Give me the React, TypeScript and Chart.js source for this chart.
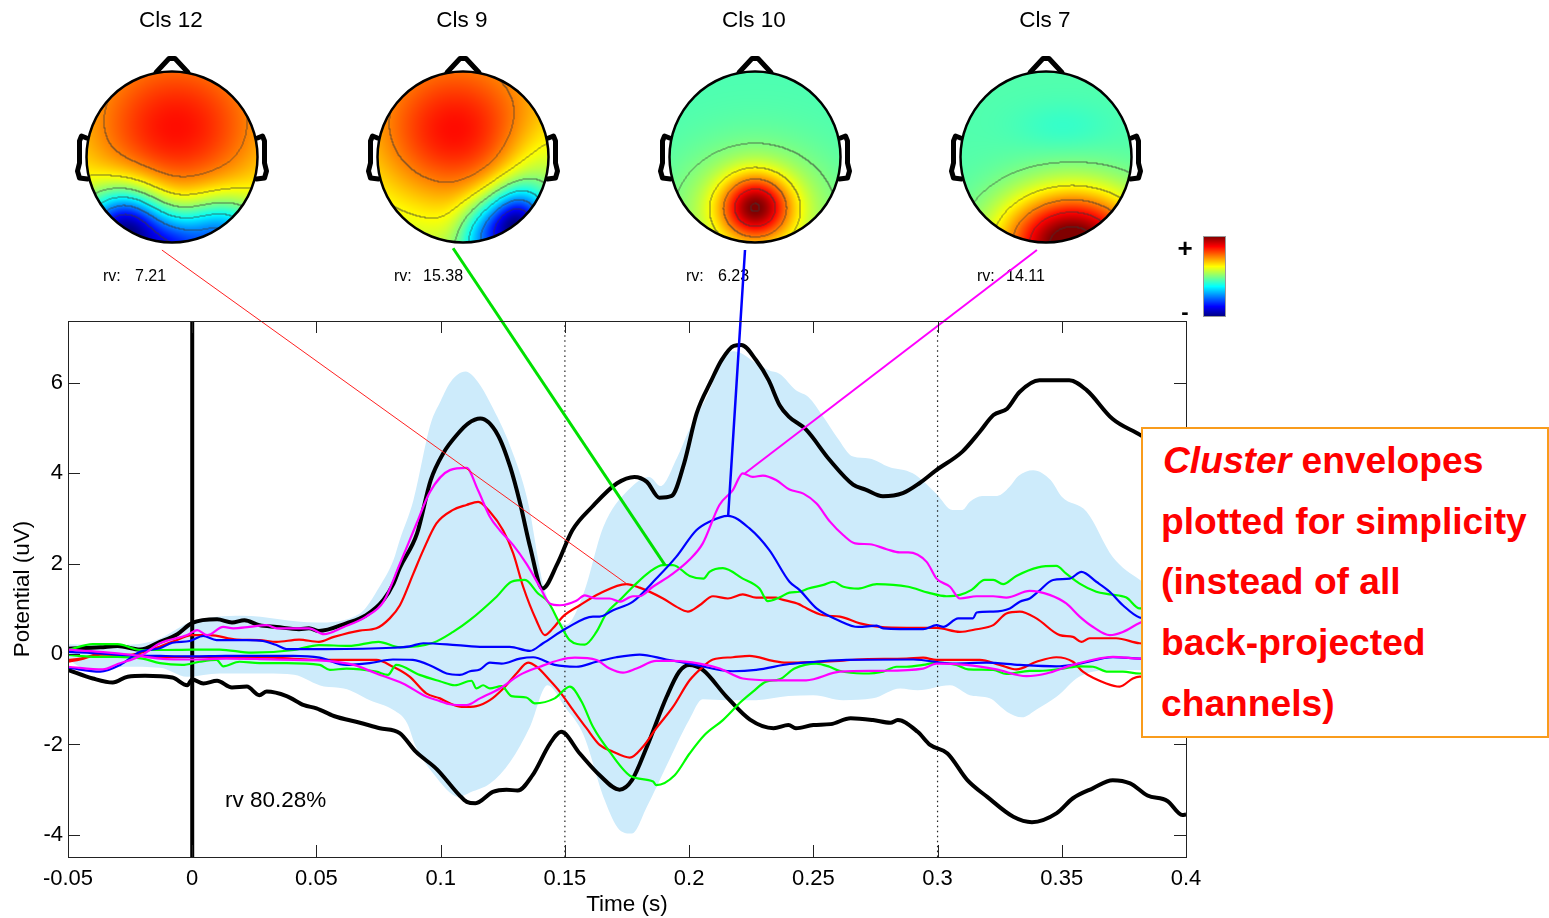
import React, { useEffect, useRef } from "react";
import { Chart, registerables } from "chart.js";

Chart.register(...registerables);

// ---------- axis ticks ----------
const xTicks = [-0.05, 0, 0.05, 0.1, 0.15, 0.2, 0.25, 0.3, 0.35, 0.4];
const yTicks = [-4, -2, 0, 2, 4, 6];
const xLabels = ["-0.05", "0", "0.05", "0.1", "0.15", "0.2", "0.25", "0.3", "0.35", "0.4"];
const dottedTimes = [0.15, 0.3];

// ---------- outer black envelope ----------
const blackUpT = [-0.05,-0.037,-0.03,-0.021,-0.013,-0.006,0,0.01,0.016,0.021,0.027,0.034,0.043,0.047,0.051,0.062,0.07,0.077,0.081,0.0835,0.0905,0.096,0.101,0.107,0.111,0.116,0.123,0.128,0.132,0.136,0.141,0.147,0.153,0.161,0.171,0.178,0.183,0.188,0.193,0.198,0.203,0.209,0.213,0.218,0.221,0.227,0.232,0.2365,0.24,0.247,0.2565,0.266,0.271,0.278,0.286,0.2927,0.2995,0.31,0.317,0.3225,0.328,0.333,0.341,0.353,0.36,0.3705,0.3815,0.4];
const blackUpV = [0.12,0.15,0.18,0.1,0.27,0.44,0.69,0.77,0.7,0.75,0.64,0.6,0.55,0.57,0.51,0.68,0.86,1.2,1.56,1.9,2.67,3.85,4.44,4.88,5.1,5.21,4.85,4.14,3.33,2.37,1.45,2.0,2.74,3.26,3.78,3.92,3.81,3.46,3.5,4.22,5.32,6.06,6.5,6.82,6.84,6.5,6.06,5.5,5.26,4.97,4.3,3.75,3.64,3.49,3.56,3.78,4.07,4.48,4.92,5.29,5.43,5.8,6.06,6.06,5.84,5.2,4.85,4.2];
const blackLowT = [-0.05,-0.04,-0.032,-0.026,-0.019,-0.008,-0.002,0,0.0045,0.01,0.016,0.022,0.027,0.03,0.038,0.045,0.05,0.057,0.0675,0.0755,0.0835,0.09,0.0985,0.1075,0.1105,0.114,0.121,0.1265,0.131,0.137,0.144,0.1485,0.156,0.164,0.172,0.177,0.183,0.191,0.196,0.2,0.2055,0.215,0.2245,0.234,0.24,0.243,0.25,0.257,0.265,0.274,0.281,0.284,0.292,0.297,0.304,0.312,0.32,0.3305,0.338,0.348,0.3545,0.3625,0.3705,0.3775,0.3845,0.3925,0.3985,0.4];
const blackLowV = [-0.35,-0.54,-0.63,-0.5,-0.48,-0.52,-0.69,-0.56,-0.65,-0.59,-0.74,-0.72,-0.91,-0.83,-0.93,-1.13,-1.2,-1.37,-1.52,-1.64,-1.75,-2.16,-2.55,-3.12,-3.27,-3.3,-3.05,-3.0,-3.02,-2.68,-1.98,-1.72,-2.2,-2.68,-3.0,-2.79,-2.05,-0.94,-0.39,-0.24,-0.35,-0.94,-1.45,-1.64,-1.57,-1.64,-1.57,-1.55,-1.42,-1.46,-1.52,-1.46,-1.72,-2.01,-2.2,-2.79,-3.16,-3.6,-3.72,-3.52,-3.19,-2.97,-2.79,-2.86,-3.13,-3.25,-3.56,-3.55];

// ---------- light-blue envelope ----------
const fillUpT = [-0.05,-0.03,-0.015,0,0.02,0.05,0.0675,0.0755,0.081,0.0835,0.089,0.096,0.1,0.104,0.11,0.115,0.12,0.128,0.135,0.1415,0.1505,0.1575,0.1655,0.1755,0.184,0.1885,0.195,0.2,0.208,0.213,0.218,0.228,0.232,0.2365,0.243,0.248,0.254,0.2595,0.266,0.2725,0.2805,0.29,0.2995,0.306,0.31,0.313,0.318,0.324,0.329,0.3325,0.3385,0.3455,0.35,0.36,0.3705,0.3815,0.4];
const fillUpV = [0.22,0.2,0.3,0.72,0.85,0.7,0.9,1.5,2.08,2.52,3.4,5.1,5.6,6.02,6.25,6.02,5.55,4.6,3.4,1.5,0.65,1.34,2.82,3.63,3.92,3.72,4.33,4.96,5.8,6.5,6.7,6.4,6.28,6.2,5.84,5.69,5.25,4.8,4.37,4.33,4.14,4.0,3.55,3.19,3.19,3.37,3.5,3.5,3.7,3.94,4.07,3.85,3.48,3.15,2.15,1.64,1.0];
const fillLowT = [-0.05,-0.04,-0.027,-0.013,-0.002,0.011,0.03,0.041,0.053,0.061,0.0715,0.081,0.0865,0.09,0.097,0.1075,0.112,0.12,0.128,0.136,0.143,0.15,0.1575,0.166,0.172,0.177,0.183,0.191,0.2,0.2055,0.215,0.227,0.24,0.25,0.262,0.274,0.285,0.292,0.305,0.313,0.321,0.328,0.334,0.34,0.348,0.357,0.37,0.38,0.4];
const fillLowV = [-0.13,-0.39,-0.28,-0.3,-0.5,-0.43,-0.43,-0.46,-0.72,-0.76,-1.02,-1.24,-1.53,-2.05,-2.64,-3.16,-3.06,-2.86,-2.38,-1.6,-0.69,-1.17,-1.79,-3.23,-3.89,-3.97,-3.38,-2.46,-1.46,-1.0,-1.02,-1.02,-0.93,-0.91,-1.02,-0.98,-0.76,-0.8,-0.69,-0.91,-0.98,-1.28,-1.4,-1.22,-0.94,-0.5,-0.35,-0.35,-0.4];

// ---------- cluster envelopes: magenta ----------
const magUpT = [-0.05,-0.036,-0.03,-0.021,-0.013,-0.002,0.002,0.006,0.0125,0.0165,0.023,0.03,0.034,0.041,0.047,0.053,0.061,0.07,0.077,0.0836,0.0903,0.0957,0.1037,0.1104,0.115,0.1198,0.1238,0.1292,0.1345,0.1399,0.1439,0.148,0.1546,0.158,0.1627,0.168,0.172,0.1774,0.18,0.1854,0.1935,0.2,0.2055,0.2122,0.2176,0.2216,0.2256,0.2297,0.235,0.2404,0.246,0.2513,0.2567,0.2621,0.2668,0.2728,0.2795,0.2848,0.2882,0.2956,0.2996,0.305,0.309,0.3157,0.3224,0.3277,0.3371,0.3451,0.3518,0.3572,0.3626,0.3693,0.3746,0.3813,0.4];
const magUpV = [-0.28,-0.34,-0.22,-0.05,0.24,0.42,0.53,0.42,0.6,0.57,0.6,0.64,0.57,0.57,0.57,0.44,0.6,0.83,1.16,2.0,2.89,3.59,4.07,4.12,3.63,3.04,2.74,2.41,2.0,1.49,1.12,1.08,1.18,1.3,1.23,1.23,1.16,1.28,1.28,1.49,1.78,2.08,2.45,3.3,3.63,4.0,3.92,3.95,3.85,3.64,3.55,3.33,2.93,2.63,2.45,2.43,2.32,2.25,2.25,2.04,1.67,1.49,1.23,1.28,1.28,1.25,1.4,1.31,1.12,0.83,0.6,0.42,0.49,0.69,1.1];
const magLowT = [-0.05,-0.037,-0.024,-0.013,0,0.0138,0.027,0.041,0.054,0.065,0.0741,0.0848,0.0942,0.0997,0.1037,0.1104,0.1158,0.1238,0.1319,0.1399,0.1479,0.154,0.1627,0.168,0.1734,0.1788,0.1868,0.1935,0.2042,0.2123,0.2216,0.2337,0.2471,0.2607,0.2768,0.2942,0.2996,0.3116,0.3237,0.3358,0.3438,0.3545,0.3706,0.3813,0.4];
const magLowV = [0.1,0.05,-0.02,-0.1,-0.12,-0.1,-0.11,-0.13,-0.15,-0.24,-0.43,-0.65,-0.94,-1.04,-1.11,-1.13,-0.98,-0.76,-0.46,-0.28,-0.13,-0.08,-0.13,-0.32,-0.41,-0.32,-0.15,-0.15,-0.21,-0.32,-0.54,-0.58,-0.58,-0.39,-0.37,-0.32,-0.21,-0.24,-0.34,-0.49,-0.43,-0.24,-0.06,-0.1,-0.08];

// ---------- cluster envelopes: blue ----------
const blueUpT = [-0.05,-0.037,-0.029,-0.021,-0.013,-0.008,-0.001,0.0044,0.0098,0.0218,0.0285,0.0339,0.0379,0.054,0.0808,0.0875,0.093,0.1064,0.1171,0.1278,0.1359,0.1412,0.1506,0.1613,0.164,0.1694,0.1774,0.1868,0.1948,0.2029,0.2082,0.2156,0.2243,0.2323,0.2404,0.2444,0.2513,0.26,0.2681,0.2755,0.2781,0.2942,0.2996,0.3023,0.3083,0.3143,0.3157,0.3224,0.3291,0.3331,0.3371,0.3405,0.3465,0.3532,0.3579,0.3639,0.3693,0.3746,0.3813,0.4];
const blueUpV = [-0.3,-0.39,-0.24,0.05,0.13,0.25,0.29,0.4,0.31,0.31,0.29,0.2,0.11,0.11,0.14,0.17,0.24,0.2,0.16,0.16,0.07,0.24,0.57,0.83,0.83,0.97,1.16,1.67,2.15,2.74,2.93,3.06,2.78,2.3,1.6,1.42,1.01,0.75,0.6,0.63,0.57,0.55,0.64,0.6,0.79,0.79,0.92,0.94,1.01,1.16,1.23,1.38,1.64,1.67,1.82,1.6,1.38,1.08,0.81,0.7];
const blueLowT = [-0.05,-0.036,-0.029,-0.013,0,0.0138,0.0272,0.0406,0.0513,0.062,0.0714,0.0808,0.0888,0.0969,0.1024,0.1077,0.1118,0.1158,0.1198,0.1245,0.1319,0.1372,0.1459,0.1546,0.1627,0.1707,0.1801,0.1908,0.2002,0.2176,0.227,0.2404,0.2511,0.2634,0.2902,0.3063,0.3197,0.3331,0.3478,0.3572,0.3706,0.3813,0.4];
const blueLowV = [0.05,0.01,-0.02,-0.04,-0.05,-0.04,-0.04,-0.04,-0.08,-0.24,-0.2,-0.12,-0.13,-0.28,-0.43,-0.46,-0.38,-0.34,-0.19,-0.21,-0.1,-0.07,-0.24,-0.28,-0.17,-0.07,-0.01,-0.12,-0.21,-0.38,-0.35,-0.22,-0.17,-0.13,-0.12,-0.21,-0.19,-0.24,-0.27,-0.21,-0.07,-0.1,-0.12];

// ---------- cluster envelopes: green ----------
const greenUpT = [-0.05,-0.04,-0.03,-0.021,-0.013,0,0.011,0.024,0.041,0.051,0.063,0.075,0.0836,0.097,0.105,0.1117,0.1225,0.1285,0.1339,0.1392,0.1432,0.1479,0.1519,0.158,0.1627,0.1667,0.172,0.1774,0.1841,0.1895,0.1935,0.2002,0.2058,0.2082,0.2136,0.2216,0.2283,0.2317,0.2363,0.2404,0.2444,0.248,0.2541,0.258,0.2621,0.2681,0.2755,0.2882,0.2962,0.3036,0.309,0.3137,0.319,0.3224,0.3264,0.3317,0.3405,0.3478,0.3518,0.3572,0.3639,0.3693,0.376,0.3813,0.4];
const greenUpV = [0.09,0.22,0.22,0.09,0.09,0.1,0.1,0.03,0.09,0.2,0.18,0.27,0.15,0.25,0.49,0.75,1.27,1.6,1.64,1.34,1.16,0.68,0.31,0.21,0.49,0.9,1.19,1.49,1.82,1.97,1.97,1.73,1.67,1.82,1.9,1.67,1.45,1.17,1.25,1.36,1.38,1.45,1.53,1.6,1.49,1.45,1.55,1.49,1.36,1.28,1.31,1.42,1.64,1.64,1.55,1.73,1.92,1.95,1.78,1.56,1.38,1.32,1.25,1.01,1.01];
const greenLowT = [-0.05,-0.04,-0.03,-0.02,-0.013,-0.004,0.003,0.0098,0.0125,0.019,0.027,0.038,0.0513,0.0554,0.0621,0.0741,0.0788,0.0821,0.0915,0.0997,0.1057,0.1124,0.1144,0.1171,0.1198,0.1245,0.1285,0.1345,0.1379,0.1459,0.152,0.1567,0.1613,0.168,0.1768,0.1855,0.1868,0.1942,0.2002,0.2062,0.2136,0.221,0.2257,0.231,0.2364,0.2424,0.2511,0.2565,0.2605,0.2701,0.2781,0.2835,0.2875,0.2942,0.2996,0.3076,0.3123,0.3224,0.3277,0.3371,0.3411,0.3505,0.3572,0.3626,0.3686,0.3746,0.3813,0.4];
const greenLowV = [-0.02,-0.06,-0.06,-0.1,-0.2,-0.24,-0.17,-0.13,-0.27,-0.17,-0.2,-0.2,-0.24,-0.35,-0.32,-0.39,-0.46,-0.24,-0.46,-0.6,-0.69,-0.59,-0.76,-0.69,-0.76,-0.71,-0.93,-0.96,-1.09,-0.98,-0.72,-1.05,-1.61,-2.16,-2.71,-2.82,-2.9,-2.68,-2.2,-1.79,-1.46,-1.05,-0.83,-0.61,-0.56,-0.32,-0.21,-0.28,-0.37,-0.43,-0.39,-0.28,-0.28,-0.24,-0.19,-0.24,-0.34,-0.35,-0.44,-0.37,-0.37,-0.32,-0.27,-0.28,-0.39,-0.39,-0.43,-0.4];

// ---------- cluster envelopes: red ----------
const redUpT = [-0.05,-0.045,-0.036,-0.026,-0.017,-0.008,0,0.007,0.018,0.027,0.034,0.043,0.051,0.057,0.0674,0.0741,0.0795,0.0836,0.089,0.093,0.0983,0.105,0.1104,0.1151,0.1198,0.1251,0.1292,0.1332,0.1385,0.1419,0.1452,0.1492,0.156,0.164,0.1747,0.1801,0.1895,0.1948,0.1995,0.2042,0.2096,0.2156,0.2216,0.227,0.235,0.2366,0.2444,0.246,0.254,0.2607,0.2688,0.2768,0.2875,0.2942,0.2996,0.309,0.3157,0.3224,0.3277,0.3331,0.3398,0.3492,0.3545,0.3579,0.3612,0.3719,0.3813,0.4];
const redUpV = [-0.13,-0.1,0.01,-0.02,0.09,0.27,0.42,0.42,0.32,0.31,0.27,0.32,0.27,0.38,0.52,0.57,0.79,1.08,1.78,2.3,2.89,3.19,3.3,3.37,3.15,2.74,2.23,1.49,0.75,0.42,0.57,0.83,1.08,1.34,1.55,1.47,1.23,1.05,0.94,1.08,1.28,1.23,1.32,1.25,1.25,1.22,1.1,1.05,0.86,0.83,0.68,0.6,0.58,0.58,0.58,0.49,0.55,0.64,0.9,0.94,0.79,0.42,0.38,0.27,0.35,0.35,0.24,0.2];
const redLowT = [-0.05,-0.045,-0.037,-0.024,-0.013,0,0.0138,0.0326,0.054,0.0741,0.0808,0.0875,0.0942,0.0997,0.1037,0.1084,0.1144,0.1198,0.1252,0.1305,0.1352,0.1386,0.1439,0.1479,0.1533,0.1587,0.164,0.1694,0.1761,0.1814,0.1868,0.1935,0.2002,0.2056,0.2096,0.2176,0.2243,0.2337,0.239,0.2605,0.2674,0.2875,0.2942,0.2996,0.317,0.325,0.3317,0.3398,0.3478,0.3545,0.3585,0.3679,0.3733,0.3786,0.3813,0.4];
const redLowV = [-0.17,-0.12,-0.01,-0.02,-0.06,-0.06,-0.06,-0.08,-0.13,-0.13,-0.28,-0.5,-0.87,-0.98,-1.09,-1.17,-1.15,-1.02,-0.76,-0.43,-0.19,-0.28,-0.58,-0.83,-1.24,-1.64,-2.01,-2.16,-2.29,-2.05,-1.64,-1.17,-0.58,-0.28,-0.12,-0.07,-0.04,-0.15,-0.19,-0.15,-0.12,-0.1,-0.08,-0.13,-0.13,-0.24,-0.34,-0.17,-0.07,-0.17,-0.39,-0.65,-0.72,-0.54,-0.5,-0.5];

// ---------- connectors from scalp maps to envelope peaks ----------
const redLinkT = [-0.0122, 0.175];
const redLinkV = [8.94, 1.55];
const greenLinkT = [0.105, 0.1903];
const greenLinkV = [8.98, 1.97];
const blueLinkT = [0.2225, 0.2157];
const blueLinkV = [8.94, 3.04];
const magLinkT = [0.34, 0.2225];
const magLinkV = [8.94, 4.0];

// ---------- scalp map labels ----------
const mapTitles = ["Cls 12", "Cls 9", "Cls 10", "Cls 7"];
const mapRv = ["7.21", "15.38", "6.23", "14.11"];
// Each blob: [x, y, amplitude, sigmaX, sigmaY] in head-radius units.
const mapBase = [0.58, 0.58, 0.45, 0.455];
const mapSlope = [-0.04, -0.05, 0.0, 0.0];
const mapBlobs12 = [[0.04,-0.28,0.27,0.8,0.7],[-0.55,0.85,-0.58,0.33,0.33],[0,1.15,-0.28,0.25,0.3],[0.55,0.9,-0.35,0.33,0.3]];
const mapBlobs9 = [[-0.1,-0.25,0.27,0.72,0.65],[0.62,0.8,-0.55,0.25,0.3],[0.2,0.95,-0.2,0.2,0.3],[0.85,0.2,-0.08,0.3,0.4]];
const mapBlobs10 = [[0,0.58,0.4,0.28,0.26],[0,0.68,0.16,0.62,0.52]];
const mapBlobs7 = [[0.3,1.0,0.6,0.58,0.42],[0.2,-0.35,-0.03,0.4,0.2]];
const mapBlobs = [mapBlobs12, mapBlobs9, mapBlobs10, mapBlobs7];

const FONT = '"Liberation Sans", Arial, sans-serif';
const HEAD_X = [172, 463, 755, 1046];
const HEAD_Y = 157;
const HEAD_R = 85.5;

const zip = (t: number[], v: number[]) => t.map((x, i) => ({ x, y: v[i] }));

function jet(v: number): [number, number, number] {
  const c = (a: number) => Math.round(255 * Math.max(0, Math.min(1, a)));
  return [c(1.5 - Math.abs(4 * v - 3)), c(1.5 - Math.abs(4 * v - 2)), c(1.5 - Math.abs(4 * v - 1))];
}

function makeMap(i: number): HTMLCanvasElement {
  const size = Math.ceil(HEAD_R * 2) + 2;
  const cv = document.createElement("canvas");
  cv.width = size;
  cv.height = size;
  const ctx = cv.getContext("2d")!;
  const img = ctx.createImageData(size, size);
  const field = (px: number, py: number) => {
    const nx = (px - size / 2) / HEAD_R;
    const ny = (py - size / 2) / HEAD_R;
    let f = mapBase[i] + mapSlope[i] * ny;
    for (const [bx, by, a, sx, sy] of mapBlobs[i]) {
      f += a * Math.exp(-((nx - bx) ** 2) / (2 * sx * sx) - ((ny - by) ** 2) / (2 * sy * sy));
    }
    return Math.max(0, Math.min(1, f));
  };
  const step = 0.125;
  for (let y = 0; y < size; y++) {
    for (let x = 0; x < size; x++) {
      const f = field(x, y);
      let [r, g, b] = jet(f);
      const q = Math.floor(f / step);
      if (q !== Math.floor(field(x + 1, y) / step) || q !== Math.floor(field(x, y + 1) / step)) {
        r = Math.round(r * 0.3 + 40);
        g = Math.round(g * 0.3 + 40);
        b = Math.round(b * 0.3 + 40);
      }
      const o = (y * size + x) * 4;
      img.data[o] = r;
      img.data[o + 1] = g;
      img.data[o + 2] = b;
      img.data[o + 3] = 255;
    }
  }
  ctx.putImageData(img, 0, 0);
  return cv;
}

function drawHead(ctx: CanvasRenderingContext2D, i: number, map: HTMLCanvasElement) {
  const cx = HEAD_X[i];
  const cy = HEAD_Y;
  const r = HEAD_R;
  ctx.save();
  ctx.lineJoin = "round";
  ctx.lineCap = "round";
  ctx.strokeStyle = "#000";
  // nose
  ctx.lineWidth = 5;
  ctx.beginPath();
  ctx.moveTo(cx - 16, cy - r + 1);
  ctx.lineTo(cx - 3, cy - r - 13);
  ctx.lineTo(cx + 3, cy - r - 13);
  ctx.lineTo(cx + 16, cy - r + 1);
  ctx.stroke();
  // ears
  for (const s of [-1, 1]) {
    ctx.beginPath();
    ctx.moveTo(cx + s * (r + 0), cy - 19);
    ctx.lineTo(cx + s * (r + 5), cy - 21);
    ctx.lineTo(cx + s * (r + 7), cy - 16);
    ctx.lineTo(cx + s * (r + 7), cy + 6);
    ctx.lineTo(cx + s * (r + 9), cy + 14);
    ctx.lineTo(cx + s * (r + 7), cy + 21);
    ctx.lineTo(cx + s * (r - 1), cy + 22);
    ctx.stroke();
  }
  // map
  ctx.save();
  ctx.beginPath();
  ctx.arc(cx, cy, r, 0, Math.PI * 2);
  ctx.clip();
  ctx.drawImage(map, cx - map.width / 2, cy - map.height / 2);
  ctx.restore();
  ctx.lineWidth = 2.5;
  ctx.beginPath();
  ctx.arc(cx, cy, r, 0, Math.PI * 2);
  ctx.stroke();
  // labels
  ctx.fillStyle = "#000";
  ctx.textBaseline = "middle";
  ctx.textAlign = "center";
  ctx.font = `22.5px ${FONT}`;
  ctx.fillText(mapTitles[i], cx - 1, 21);
  ctx.textAlign = "left";
  ctx.font = `16px ${FONT}`;
  ctx.fillText("rv:", cx - 69, 277);
  ctx.fillText(mapRv[i], cx + (mapRv[i].length > 4 ? -40 : -37), 277);
  ctx.restore();
}

function makeColorbar(ctx: CanvasRenderingContext2D) {
  const x = 1203, y = 236, w = 23, h = 81;
  for (let k = 0; k < h; k++) {
    const [r, g, b] = jet(1 - k / (h - 1));
    ctx.fillStyle = `rgb(${r},${g},${b})`;
    ctx.fillRect(x, y + k, w, 1);
  }
  ctx.strokeStyle = "#999";
  ctx.lineWidth = 1;
  ctx.strokeRect(x + 0.5, y + 0.5, w - 1, h - 1);
  ctx.fillStyle = "#000";
  ctx.textAlign = "center";
  ctx.textBaseline = "middle";
  ctx.font = `bold 26px ${FONT}`;
  ctx.fillText("+", 1185, 250);
  ctx.font = `bold 22px ${FONT}`;
  ctx.fillText("-", 1185, 313);
}

export default function App() {
  const ref = useRef<HTMLCanvasElement>(null);

  useEffect(() => {
    const maps = [0, 1, 2, 3].map(makeMap);
    const decor = {
      id: "decor",
      afterDatasetsDraw(chart: any) {
        const { ctx, chartArea: a, scales } = chart;
        ctx.save();
        ctx.strokeStyle = "#222";
        ctx.lineWidth = 1;
        ctx.beginPath();
        for (const t of xTicks) {
          const p = Math.round(scales.x.getPixelForValue(t)) + 0.5;
          ctx.moveTo(p, a.bottom);
          ctx.lineTo(p, a.bottom - 12);
          ctx.moveTo(p, a.top);
          ctx.lineTo(p, a.top + 12);
        }
        for (const v of yTicks) {
          const p = Math.round(scales.y.getPixelForValue(v)) + 0.5;
          ctx.moveTo(a.left, p);
          ctx.lineTo(a.left + 12, p);
          ctx.moveTo(a.right, p);
          ctx.lineTo(a.right - 12, p);
        }
        ctx.stroke();
        ctx.strokeRect(a.left + 0.5, a.top + 0.5, a.right - a.left, a.bottom - a.top);
        ctx.fillStyle = "#000";
        ctx.textAlign = "left";
        ctx.textBaseline = "middle";
        ctx.font = `22.5px ${FONT}`;
        ctx.fillText("rv 80.28%", scales.x.getPixelForValue(0.0132), scales.y.getPixelForValue(-3.25));
        makeColorbar(ctx);
        ctx.restore();
      },
      beforeDatasetsDraw(chart: any) {
        maps.forEach((m, i) => drawHead(chart.ctx, i, m));
      },
    };

    const line = (data: any[], color: string, width: number, extra: any = {}) => ({
      type: "line",
      data,
      borderColor: color,
      borderWidth: width,
      pointRadius: 0,
      cubicInterpolationMode: "monotone",
      fill: false,
      ...extra,
    });

    const top = 321, bottom = 857, left = 68, right = 1186;
    const chart = new Chart(ref.current!, {
      type: "line",
      data: {
        datasets: [
          line(zip(redLinkT, redLinkV), "#ff2020", 1, { clip: false }),
          line(zip(greenLinkT, greenLinkV), "#00e000", 3, { clip: false }),
          line(zip(blueLinkT, blueLinkV), "#0000ff", 2.5, { clip: false }),
          line(zip(magLinkT, magLinkV), "#ff00ff", 2, { clip: false }),
          line(zip(magUpT, magUpV), "#ff00ff", 2.2),
          line(zip(magLowT, magLowV), "#ff00ff", 2.2),
          line(zip(blueUpT, blueUpV), "#0000ff", 2.2),
          line(zip(blueLowT, blueLowV), "#0000ff", 2.2),
          line(zip(greenUpT, greenUpV), "#00ff00", 2.2),
          line(zip(greenLowT, greenLowV), "#00ff00", 2.2),
          line(zip(redUpT, redUpV), "#ff0000", 2.2),
          line(zip(redLowT, redLowV), "#ff0000", 2.2),
          line(zip(blackUpT, blackUpV), "#000", 4),
          line(zip(blackLowT, blackLowV), "#000", 4),
          line([{ x: 0, y: -4.49 }, { x: 0, y: 7.37 }], "#000", 4),
          line([{ x: dottedTimes[0], y: -4.49 }, { x: dottedTimes[0], y: 7.37 }], "#222", 1.2, { borderDash: [1.5, 3.5] }),
          line([{ x: dottedTimes[1], y: -4.49 }, { x: dottedTimes[1], y: 7.37 }], "#222", 1.2, { borderDash: [1.5, 3.5] }),
          line(zip(fillUpT, fillUpV), "transparent", 0, { fill: "+1", backgroundColor: "#cdebfb" }),
          line(zip(fillLowT, fillLowV), "transparent", 0),
        ] as any,
      },
      options: {
        animation: false,
        responsive: false,
        layout: { padding: { left: 0, top, right: 1549 - right, bottom: 0 } },
        plugins: { legend: { display: false }, tooltip: { enabled: false }, title: { display: false } },
        scales: {
          x: {
            type: "linear",
            min: -0.05,
            max: 0.4,
            grid: { display: false, drawTicks: false },
            border: { display: false },
            afterBuildTicks: (s: any) => { s.ticks = xTicks.map((value) => ({ value })); },
            afterFit: (s: any) => { s.height = 918 - bottom; },
            ticks: {
              autoSkip: false,
              maxRotation: 0,
              color: "#000",
              font: { family: FONT, size: 22 },
              padding: 9,
              callback: (v: any) => xLabels[xTicks.findIndex((t) => Math.abs(t - v) < 1e-6)] ?? "",
            },
            title: { display: true, text: "Time (s)", color: "#000", font: { family: FONT, size: 22.5 }, padding: { top: 0, bottom: 0 } },
          },
          y: {
            type: "linear",
            min: -4.49,
            max: 7.37,
            grid: { display: false, drawTicks: false },
            border: { display: false },
            afterBuildTicks: (s: any) => { s.ticks = yTicks.map((value) => ({ value })); },
            afterFit: (s: any) => { s.width = left; },
            ticks: { autoSkip: false, color: "#000", font: { family: FONT, size: 22 }, padding: 5, callback: (v: any) => String(v) },
            title: { display: true, text: "Potential (uV)", color: "#000", font: { family: FONT, size: 22.5 }, padding: { top: 9, bottom: 0 } },
          },
        },
      },
      plugins: [decor],
    } as any);
    return () => chart.destroy();
  }, []);

  const line: React.CSSProperties = { height: 60.7, lineHeight: "60.7px", whiteSpace: "nowrap" };
  return (
    <div style={{ position: "relative", width: 1549, height: 918 }}>
      <canvas ref={ref} width={1549} height={918} style={{ position: "fixed", left: 0, top: 0, display: "block" }} />
      <div
        style={{
          position: "fixed",
          left: 1141,
          top: 427,
          width: 408,
          height: 311,
          boxSizing: "border-box",
          border: "2px solid #f99c1c",
          background: "#fff",
          color: "#ff0000",
          fontFamily: FONT,
          fontWeight: "bold",
          fontSize: 37.2,
          paddingLeft: 18,
          paddingTop: 1,
        }}
      >
        <div style={line}><i style={{ marginLeft: 2 }}>Cluster</i> envelopes</div>
        <div style={line}>plotted for simplicity</div>
        <div style={line}>(instead of all</div>
        <div style={line}>back-projected</div>
        <div style={line}>channels)</div>
      </div>
    </div>
  );
}
